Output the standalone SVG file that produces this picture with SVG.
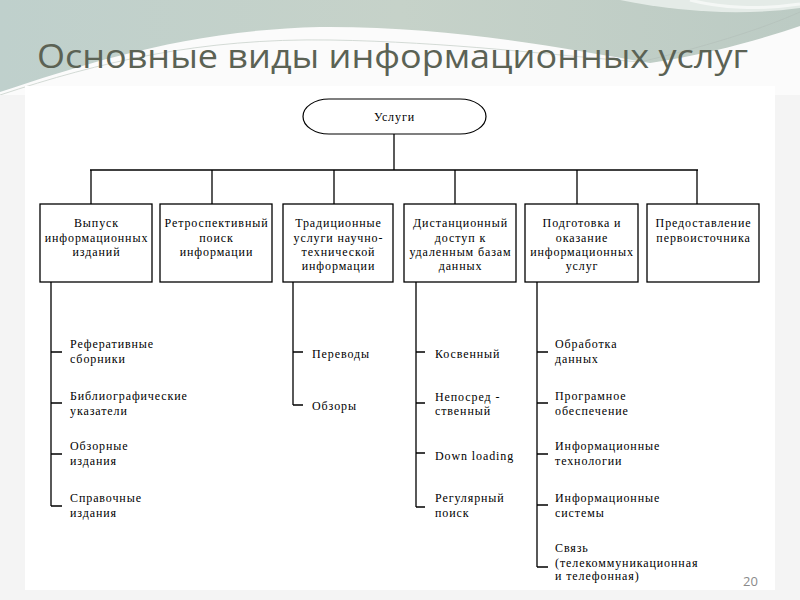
<svg xmlns="http://www.w3.org/2000/svg" width="800" height="600" viewBox="0 0 800 600">
<defs>
<linearGradient id="bg" x1="0" y1="0" x2="1" y2="0">
<stop offset="0" stop-color="#bfd0cc"/>
<stop offset="0.5" stop-color="#c6d2c9"/>
<stop offset="1" stop-color="#bccbc4"/>
</linearGradient>
<style>
.ln{stroke:#000;stroke-width:1.3;fill:none}
.bx{fill:#fff;stroke:#000;stroke-width:1.3}
</style>
</defs>
<rect width="800" height="600" fill="#f4f4f4"/>
<rect width="800" height="110" fill="url(#bg)"/>
<path d="M0,92 C90,62 190,30 320,27 C450,26 560,48 650,63 C720,52 770,36 800,26 L800,110 L0,110 Z" fill="#fbfbfb"/>
<path d="M620,0 C680,12 740,16 800,8 L800,0 Z" fill="#e4ebe7"/>
<path d="M690,0 C720,8 760,10 800,4" stroke="#f4f7f5" stroke-width="3" fill="none"/>
<path d="M0,95 C100,62 200,38 330,40 C450,42 550,55 640,62" stroke="#c9d2cc" stroke-width="0.8" fill="none"/>
<path d="M640,62 C700,48 760,30 800,12" stroke="#b5c2bb" stroke-width="0.8" fill="none"/>
<rect x="0" y="95" width="800" height="505" fill="#f4f4f4"/>
<rect x="25" y="86" width="750" height="504" fill="#ffffff"/>
<text x="37" y="68" font-family="'Open Sans', sans-serif" font-size="33" fill="#5b6254" textLength="711" lengthAdjust="spacingAndGlyphs">Основные виды информационных услуг</text>

<g id="connectors">
<line class="ln" x1="394" y1="134" x2="394" y2="170" stroke-width="2"/>
<line class="ln" x1="90" y1="170" x2="698" y2="170"/>
<line class="ln" x1="91" y1="170" x2="91" y2="204"/>
<line class="ln" x1="212" y1="170" x2="212" y2="204"/>
<line class="ln" x1="334" y1="170" x2="334" y2="204" stroke-width="2"/>
<line class="ln" x1="455" y1="170" x2="455" y2="204"/>
<line class="ln" x1="577" y1="170" x2="577" y2="204"/>
<line class="ln" x1="697" y1="170" x2="697" y2="204"/>
<path class="ln" d="M51,282 V506 M51,352 H62 M51,403 H62 M51,454 H62 M51,506 H62"/>
<path class="ln" d="M293,282 V405 M293,352 H303 M293,405 H303"/>
<path class="ln" d="M416,282 V507 M416,352 H425 M416,403 H425 M416,453 H425 M416,507 H425"/>
<path class="ln" d="M537,282 V567 M537,352 H548 M537,403 H548 M537,454 H548 M537,505 H548 M537,567 H548"/>
</g>

<g font-family="'Liberation Serif', serif" font-size="12" letter-spacing="0.9" fill="#000">
<g id="root">
<rect x="303" y="99" width="183" height="35" rx="26" ry="17.5" fill="#fff" stroke="#000" stroke-width="1.2"/>
<text text-anchor="middle" x="394.5" y="121">Услуги</text>
</g>

<g id="box1" text-anchor="middle">
<rect class="bx" x="40" y="204" width="112" height="78"/>
<text x="96.5" y="227">Выпуск</text>
<text x="96.5" y="241.5">информационных</text>
<text x="96.5" y="256">изданий</text>
</g>
<g id="box2" text-anchor="middle">
<rect class="bx" x="160" y="204" width="112" height="78"/>
<text x="216.5" y="227">Ретроспективный</text>
<text x="216.5" y="241.5">поиск</text>
<text x="216.5" y="256">информации</text>
</g>
<g id="box3" text-anchor="middle">
<rect class="bx" x="283" y="204" width="110" height="78"/>
<text x="338.5" y="227">Традиционные</text>
<text x="338.5" y="241.5">услуги научно-</text>
<text x="338.5" y="256">технической</text>
<text x="338.5" y="270">информации</text>
</g>
<g id="box4" text-anchor="middle">
<rect class="bx" x="404" y="204" width="112" height="78"/>
<text x="460.5" y="227">Дистанционный</text>
<text x="460.5" y="241.5">доступ к</text>
<text x="460.5" y="256">удаленным базам</text>
<text x="460.5" y="270">данных</text>
</g>
<g id="box5" text-anchor="middle">
<rect class="bx" x="525" y="204" width="113" height="78"/>
<text x="582" y="227">Подготовка и</text>
<text x="582" y="241.5">оказание</text>
<text x="582" y="256">информационных</text>
<text x="582" y="270">услуг</text>
</g>
<g id="box6" text-anchor="middle">
<rect class="bx" x="647" y="204" width="112" height="78"/>
<text x="703.5" y="227">Предоставление</text>
<text x="703.5" y="241.5">первоисточника</text>
</g>

<g id="sub1">
<text x="70" y="348">Реферативные</text>
<text x="70" y="363">сборники</text>
<text x="70" y="400">Библиографические</text>
<text x="70" y="415">указатели</text>
<text x="70" y="450">Обзорные</text>
<text x="70" y="465">издания</text>
<text x="70" y="502">Справочные</text>
<text x="70" y="517">издания</text>
</g>
<g id="sub3">
<text x="312" y="358">Переводы</text>
<text x="312" y="410">Обзоры</text>
</g>
<g id="sub4">
<text x="435" y="358">Косвенный</text>
<text x="435" y="401">Непосред -</text>
<text x="435" y="415">ственный</text>
<text x="435" y="460">Down loading</text>
<text x="435" y="502">Регулярный</text>
<text x="435" y="517">поиск</text>
</g>
<g id="sub5">
<text x="555" y="348">Обработка</text>
<text x="555" y="363">данных</text>
<text x="555" y="400">Програмное</text>
<text x="555" y="415">обеспечение</text>
<text x="555" y="450">Информационные</text>
<text x="555" y="465">технологии</text>
<text x="555" y="502">Информационные</text>
<text x="555" y="517">системы</text>
<text x="555" y="552">Связь</text>
<text x="555" y="567">(телекоммуникационная</text>
<text x="555" y="580">и телефонная)</text>
</g>
</g>
<text x="743" y="586" font-family="'Open Sans', sans-serif" font-size="13" fill="#8a8a8a">20</text>
</svg>
